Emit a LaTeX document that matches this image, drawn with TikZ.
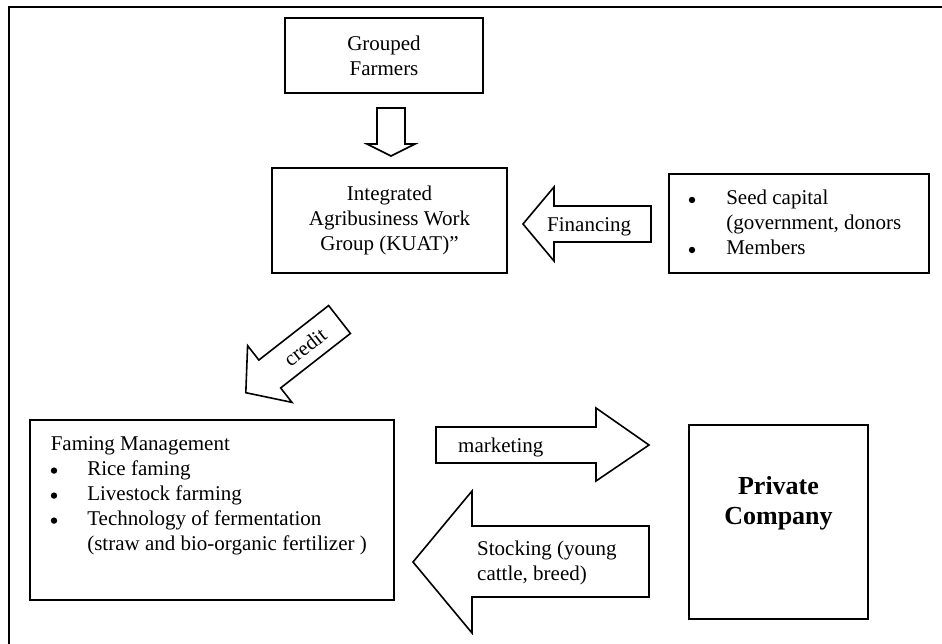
\documentclass[tikz,border=0pt]{standalone}
\usepackage{fontspec}
\setmainfont{Liberation Serif}
\usetikzlibrary{positioning}
\newcommand{\bulletdot}{\tikz[baseline=0pt]\fill (0pt,4.6pt) circle (3.2pt);}

\begin{document}
\begin{tikzpicture}[x=1pt,y=-1pt,
  box/.style={draw,line width=1.8pt,inner sep=0pt},
  txt/.style={inner sep=0pt,font=\fontsize{21}{25}\selectfont},
  list/.style={txt,align=left,anchor=north west},
  blockarrow/.style={draw,line width=1.6pt,line join=miter}]
\useasboundingbox (0,0) rectangle (942,644);
\draw[line width=2.6pt] (942,7) -- (9,7) -- (9,644);

\node[box,txt,align=center,minimum width=198pt,minimum height=75pt] (grouped) at (384,55.5) {Grouped\\Farmers};
\node[box,txt,align=center,minimum width=235pt,minimum height=105pt] (kuat) at (389.5,220.5) {Integrated\\Agribusiness Work\\Group (KUAT)”};
\node[box,minimum width=260pt,minimum height=99pt] (seed) at (799,223.5) {};
\node[list] (seedtext) at ([xshift=20.5pt,yshift=-16.7pt]seed.north west)
  {\makebox[37.5pt][l]{\bulletdot}Seed capital\\
   \hspace*{37.5pt}(government, donors\\
   \makebox[37.5pt][l]{\bulletdot}Members};
\node[box,minimum width=364pt,minimum height=180pt] (faming) at (212,510) {};
\node[list] (famingtext) at ([xshift=21.5pt,yshift=-17pt]faming.north west)
  {Faming Management\\
   \makebox[36.5pt][l]{\bulletdot}Rice faming\\
   \makebox[36.5pt][l]{\bulletdot}Livestock farming\\
   \makebox[36.5pt][l]{\bulletdot}Technology of fermentation\\
   \hspace*{36.5pt}(straw and bio-organic fertilizer )};
\node[box,line width=2.8pt,minimum width=179pt,minimum height=194pt] (company) at (778.5,522) {};
\node[inner sep=0pt,align=center,font=\fontsize{26}{30}\selectfont\bfseries] (companytext) at (778.5,503) {Private\\Company};

\draw[blockarrow] (377,108) -- (405,108) -- (405,144) -- (415,144) -- (391,156) -- (367,144) -- (377,144) -- cycle;
\draw[blockarrow] (523,224) -- (554,187) -- (554,206) -- (651,206) -- (651,242) -- (554,242) -- (554,261) -- cycle;
\node[txt,anchor=base west] (financing) at (547,232) {Financing};
\begin{scope}[shift={(339.5,319.5)},rotate=218]
  \draw[blockarrow] (0,-17.7) -- (88.5,-17.7) -- (88.5,-36) -- (118.9,0) -- (88.5,36) -- (88.5,17.7) -- (0,17.7) -- cycle;
\end{scope}
\node[txt,rotate=38] (credit) at (305,347) {credit};
\draw[blockarrow] (436,427) -- (596,427) -- (596,408) -- (649,445) -- (596,481) -- (596,463) -- (436,463) -- cycle;
\node[txt,anchor=base west] (marketing) at (458,452) {marketing};
\draw[blockarrow] (413,562) -- (472,491) -- (472,526) -- (649,526) -- (649,597) -- (472,597) -- (472,633) -- cycle;
\node[list] (stocking) at (477,540.5) {Stocking (young\\cattle, breed)};
\end{tikzpicture}
\end{document}
